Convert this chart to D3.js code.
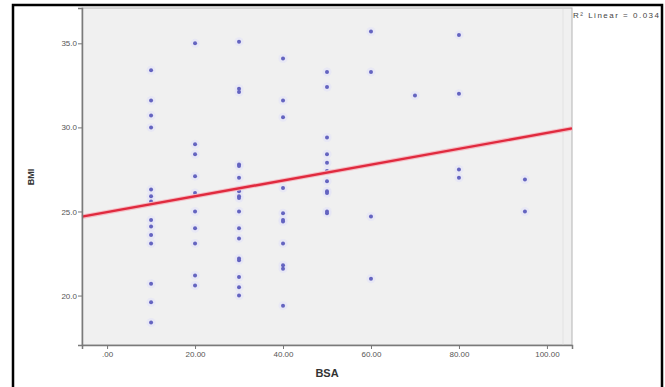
<!DOCTYPE html>
<html>
<head>
<meta charset="utf-8">
<script src="https://cdn.jsdelivr.net/npm/d3@7"></script>
<style>
  body { margin: 0; background: #fff; }
  svg { display: block; font-family: "Liberation Sans", Arial, sans-serif; }
</style>
</head>
<body>
<svg id="chart" width="665" height="387"></svg>
<script>
// BSA groups and the BMI values observed in each group
const bsaGroups = [10, 20, 30, 40, 50, 60, 70, 80, 95];
const bmiValues = [
  [33.4, 31.6, 30.7, 30.0, 26.3, 25.9, 25.6, 24.5, 24.1, 23.6, 23.1, 20.7, 19.6, 18.4],
  [35.0, 29.0, 28.4, 27.1, 26.1, 25.0, 24.0, 23.1, 21.2, 20.6],
  [35.1, 32.3, 32.1, 27.8, 27.7, 27.0, 26.3, 26.2, 25.9, 25.8, 25.0, 24.0, 23.4, 22.2, 22.1, 21.1, 20.5, 20.0],
  [34.1, 31.6, 30.6, 26.4, 24.9, 24.5, 24.4, 23.1, 21.8, 21.6, 19.4],
  [33.3, 32.4, 29.4, 28.4, 27.9, 27.4, 26.8, 26.2, 26.1, 25.0, 24.9],
  [35.7, 33.3, 24.7, 21.0],
  [31.9],
  [35.5, 32.0, 27.5, 27.0],
  [26.9, 25.0]
];
const xTicks = [0, 20, 40, 60, 80, 100];
const yTicks = [20, 25, 30, 35];
// linear fit shown on the chart
const fitIntercept = 24.96;
const fitSlope = 0.0471;
const fitLabel = "R\u00B2 Linear = 0.034";

const svg = d3.select('#chart');

const plot = { left: 82, right: 572, top: 8, bottom: 345 };

const x = d3.scaleLinear().domain([-5.7, 105.7]).range([plot.left, plot.right]);
const y = d3.scaleLinear().domain([17.06, 37.1]).range([plot.bottom, plot.top]);

// outer frame
svg.append('rect')
  .attr('x', 13).attr('y', 5)
  .attr('width', 649).attr('height', 386)
  .attr('fill', 'none')
  .attr('stroke', '#000')
  .attr('stroke-width', 2.5);

// plot background
svg.append('rect')
  .attr('x', plot.left).attr('y', plot.top)
  .attr('width', plot.right - plot.left)
  .attr('height', plot.bottom - plot.top)
  .attr('fill', '#f0f0f0')
  .attr('stroke', '#b4b4b4')
  .attr('stroke-width', 1);

svg.append('line')
  .attr('x1', plot.right - 9).attr('x2', plot.right - 9)
  .attr('y1', plot.top + 1).attr('y2', plot.bottom)
  .attr('stroke', '#e2e2e2');

// points
const points = [];
bsaGroups.forEach((g, i) => {
  bmiValues[i].forEach(v => points.push({ bsa: g, bmi: v }));
});

svg.append('g')
  .selectAll('circle.halo')
  .data(points)
  .join('circle')
  .attr('class', 'halo')
  .attr('cx', d => x(d.bsa))
  .attr('cy', d => y(d.bmi))
  .attr('r', 4.5)
  .attr('fill', '#e4e4f6')
  .attr('opacity', 0.7);

svg.append('g')
  .selectAll('circle.dot')
  .data(points)
  .join('circle')
  .attr('class', 'dot')
  .attr('cx', d => x(d.bsa))
  .attr('cy', d => y(d.bmi))
  .attr('r', 2)
  .attr('fill', '#6464c0');

// fit line
const xd = x.domain();
svg.append('line')
  .attr('x1', x(xd[0])).attr('y1', y(fitIntercept + fitSlope * xd[0]))
  .attr('x2', x(xd[1])).attr('y2', y(fitIntercept + fitSlope * xd[1]))
  .attr('stroke', '#f4bcc4')
  .attr('stroke-width', 4.5);
svg.append('line')
  .attr('x1', x(xd[0])).attr('y1', y(fitIntercept + fitSlope * xd[0]))
  .attr('x2', x(xd[1])).attr('y2', y(fitIntercept + fitSlope * xd[1]))
  .attr('stroke', '#e02a3e')
  .attr('stroke-width', 2.4);

// axes
const fmtX = d => d3.format('.2f')(d).replace(/^0\./, '.');
const xAxis = svg.append('g')
  .attr('transform', 'translate(0,' + plot.bottom + ')')
  .call(d3.axisBottom(x).tickValues(xTicks).tickFormat(fmtX).tickSize(4).tickPadding(2));

const yAxis = svg.append('g')
  .attr('transform', 'translate(' + plot.left + ',0)')
  .call(d3.axisLeft(y).tickValues(yTicks).tickFormat(d3.format('.1f')).tickSize(4).tickPadding(1));

[xAxis, yAxis].forEach(a => {
  a.select('.domain').attr('stroke', '#7a7a7a').attr('stroke-width', 1.5);
  a.selectAll('.tick line').attr('stroke', '#777');
  a.selectAll('.tick text')
    .attr('fill', '#555')
    .style('font-size', '8px')
    .style('font-family', '"Liberation Sans", Arial, sans-serif');
});

// axis titles
svg.append('text')
  .attr('x', 327).attr('y', 377)
  .attr('text-anchor', 'middle')
  .attr('fill', '#333')
  .style('font-size', '11px')
  .style('font-weight', 'bold')
  .text('BSA');

svg.append('text')
  .attr('transform', 'translate(34,177) rotate(-90)')
  .attr('text-anchor', 'middle')
  .attr('fill', '#333')
  .style('font-size', '9px')
  .style('font-weight', 'bold')
  .text('BMI');

// fit legend
svg.append('text')
  .attr('x', plot.right + 1).attr('y', 18)
  .attr('fill', '#444')
  .attr('textLength', 86)
  .attr('lengthAdjust', 'spacing')
  .style('font-size', '8px')
  .text(fitLabel);
</script>
</body>
</html>
